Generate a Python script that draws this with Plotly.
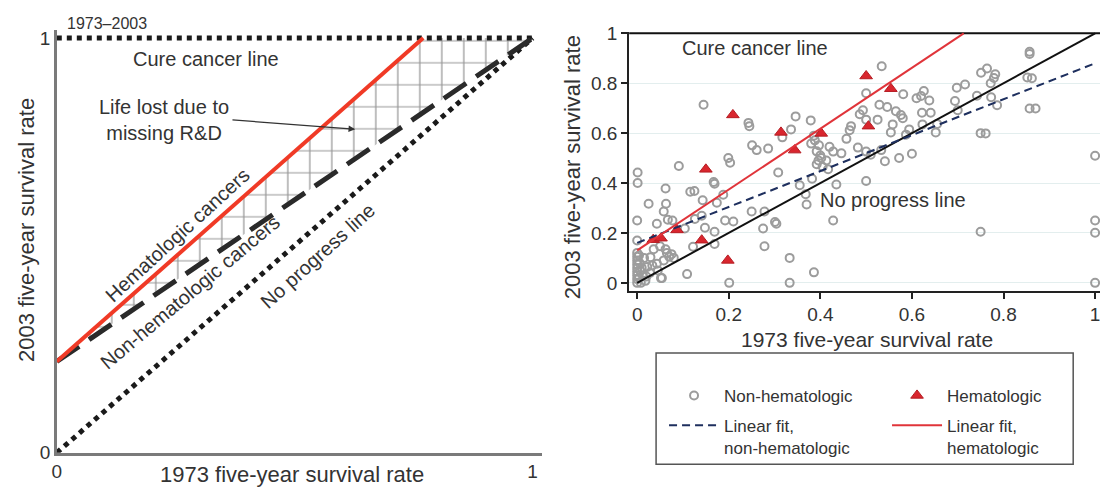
import plotly.graph_objects as go

# ---------------- data ----------------
# Left panel: schematic lines (x = 1973 rate, y = 2003 rate)
schem_intercept = 0.22
heme_end_x = 0.77
diag_x = [0.0, 1.0]
diag_y = [0.0, 1.0]
cure_x = [0.0, 1.0]
cure_y = [1.0, 1.0]
nonheme_line_x = [0.0, 1.0]
nonheme_line_y = [schem_intercept, 1.0]
heme_line_x = [0.0, heme_end_x]
heme_line_y = [schem_intercept, 1.0]
hatch_x = [0.0, heme_end_x, 1.0, 0.0]
hatch_y = [schem_intercept, 1.0, 1.0, schem_intercept]

# Right panel: observed survival rates
non_x = [0.145, 0.534, 0.50, 0.751, 0.764, 0.782, 0.779, 0.852, 0.857, 0.857, 0.698, 0.716, 0.742, 0.773,
         0.786, 0.857, 0.75, 0.772, 0.694, 0.70, 0.626, 0.61, 0.62, 0.638, 0.622, 0.641, 0.581, 0.529,
         0.546, 0.565, 0.576, 0.58, 0.558, 0.554, 0.594, 0.587, 0.525, 0.493, 0.486, 0.50, 0.467, 0.464,
         0.457, 0.482, 0.50, 0.51, 0.541, 0.572, 0.60, 0.50, 0.652, 0.655, 0.623, 0.533, 0.428, 0.446,
         0.42, 0.435, 0.428, 0.386, 0.380, 0.388, 0.379, 0.346, 0.336, 0.317, 0.286, 0.308, 0.261, 0.251,
         0.243, 0.245, 0.199, 0.203, 0.21, 0.192, 0.25, 0.278, 0.301, 0.304, 0.275, 0.278, 0.333, 0.333,
         0.386, 0.201, 0.109,
         0.397, 0.392, 0.400, 0.396, 0.392, 0.405, 0.413, 0.402,
         0.355, 0.368, 0.37, 0.382, 0.417,
         0.091, 0.167, 0.169, 0.116, 0.125, 0.062, 0.063, 0.058, 0.025, 0.001, 0.001, 0.0, 0.0, 0.043,
         0.067, 0.077, 0.143, 0.141, 0.148, 0.174, 0.188, 0.169, 0.169, 0.126, 0.104, 0.122, 0.052,
         1.0, 1.0, 1.0, 1.0, 0.75, 0.862, 0.87, 0.761,
         0.0, 0.0, 0.0, 0.0, 0.0, 0.0, 0.0, 0.0, 0.0, 0.004, 0.005, 0.006, 0.004, 0.008, 0.012, 0.02,
         0.018, 0.022, 0.029, 0.033, 0.036, 0.043, 0.05, 0.054, 0.062, 0.065, 0.07, 0.075, 0.08, 0.058,
         0.045, 0.028, 0.01, 0.015]
non_y = [0.714, 0.868, 0.76, 0.842, 0.859, 0.836, 0.821, 0.823, 0.917, 0.926, 0.782, 0.795, 0.75, 0.744,
         0.712, 0.699, 0.60, 0.80, 0.729, 0.692, 0.769, 0.74, 0.749, 0.731, 0.682, 0.682, 0.756, 0.714,
         0.705, 0.688, 0.673, 0.66, 0.635, 0.603, 0.615, 0.594, 0.654, 0.692, 0.676, 0.654, 0.628, 0.612,
         0.577, 0.542, 0.526, 0.513, 0.487, 0.50, 0.517, 0.408, 0.603, 0.637, 0.635, 0.532, 0.526, 0.519,
         0.545, 0.394, 0.25, 0.59, 0.558, 0.571, 0.651, 0.667, 0.615, 0.583, 0.538, 0.442, 0.532, 0.551,
         0.641, 0.628, 0.50, 0.481, 0.246, 0.25, 0.286, 0.286, 0.244, 0.237, 0.218, 0.147, 0.10, 0.0,
         0.042, 0.0, 0.035,
         0.551, 0.527, 0.51, 0.49, 0.475, 0.465, 0.49, 0.50,
         0.391, 0.355, 0.314, 0.417, 0.455,
         0.468, 0.404, 0.397, 0.365, 0.368, 0.378, 0.317, 0.286, 0.317, 0.442, 0.40, 0.25, 0.17, 0.237,
         0.253, 0.25, 0.331, 0.269, 0.221, 0.321, 0.353, 0.205, 0.156, 0.256, 0.218, 0.145, 0.019,
         0.509, 0.25, 0.201, 0.0, 0.205, 0.82, 0.699, 0.599,
         0.12, 0.105, 0.09, 0.075, 0.06, 0.045, 0.03, 0.015, 0.0, 0.11, 0.08, 0.05, 0.02, 0.0, 0.03, 0.025,
         0.008, 0.064, 0.103, 0.07, 0.135, 0.077, 0.147, 0.019, 0.135, 0.12, 0.105, 0.115, 0.10, 0.09,
         0.05, 0.04, 0.06, 0.10]

heme_x = [0.50, 0.554, 0.209, 0.314, 0.402, 0.344, 0.505, 0.15, 0.035, 0.052, 0.087, 0.141, 0.198]
heme_y = [0.829, 0.778, 0.673, 0.603, 0.599, 0.532, 0.628, 0.455, 0.173, 0.179, 0.212, 0.171, 0.09]

# linear fits
fit_non_intercept, fit_non_slope = 0.16, 0.72
fit_heme_intercept, fit_heme_slope = 0.13, 1.22
fit_non_x = [0.0, 1.0]
fit_heme_x = [0.0, (1.0 - fit_heme_intercept) / fit_heme_slope]
fit_non_y = [fit_non_intercept + fit_non_slope * v for v in fit_non_x]
fit_heme_y = [fit_heme_intercept + fit_heme_slope * v for v in fit_heme_x]
noprog_x = [0.0, 1.0]
noprog_y = [0.0, 1.0]
cure2_x = [-0.03, 1.05]
cure2_y = [1.0, 1.0]

tick_vals = [0, 0.2, 0.4, 0.6, 0.8, 1]
tick_text = ["0", "0.2", "0.4", "0.6", "0.8", "1"]

# ---------------- figure ----------------
W, H = 1108, 497
OFF = 8  # the page body margin shifts the figure by 8 px right and down
FONT = "Liberation Sans, Arial, Helvetica, sans-serif"
TXT = "#333333"


def px(x):
    return (x - OFF) / W


def py(y):
    return (H - (y - OFF)) / H


fig = go.Figure()

# left panel
fig.add_trace(go.Scatter(x=hatch_x, y=hatch_y, mode="lines", fill="toself",
                         fillcolor="rgba(0,0,0,0)", line=dict(width=0),
                         fillpattern=dict(shape="+", size=22, solidity=0.11, fgcolor="#2e2e2e",
                                          bgcolor="rgba(255,255,255,0)"),
                         showlegend=False, hoverinfo="skip", xaxis="x", yaxis="y"))
fig.add_trace(go.Scatter(x=diag_x, y=diag_y, mode="lines",
                         line=dict(color="#1a1a1a", width=5, dash="dot"),
                         showlegend=False, xaxis="x", yaxis="y"))
fig.add_trace(go.Scatter(x=cure_x, y=cure_y, mode="lines",
                         line=dict(color="#1a1a1a", width=5, dash="dot"),
                         showlegend=False, xaxis="x", yaxis="y"))
fig.add_trace(go.Scatter(x=nonheme_line_x, y=nonheme_line_y, mode="lines",
                         line=dict(color="#2a2a2a", width=5, dash="27px,12px"),
                         showlegend=False, xaxis="x", yaxis="y"))
fig.add_trace(go.Scatter(x=heme_line_x, y=heme_line_y, mode="lines",
                         line=dict(color="#f03a26", width=4),
                         showlegend=False, xaxis="x", yaxis="y"))

# right panel
fig.add_trace(go.Scatter(x=non_x, y=non_y, mode="markers", name="Non-hematologic",
                         marker=dict(symbol="circle-open", size=8, color="#9c9c9c",
                                     line=dict(width=2, color="#9c9c9c")),
                         legend="legend", xaxis="x2", yaxis="y2"))
fig.add_trace(go.Scatter(x=heme_x, y=heme_y, mode="markers", name="Hematologic",
                         marker=dict(symbol="triangle-up", size=11, color="#d9262e",
                                     line=dict(width=1, color="#b51c22")),
                         legend="legend3", xaxis="x2", yaxis="y2"))
fig.add_trace(go.Scatter(x=cure2_x, y=cure2_y, mode="lines",
                         line=dict(color="#111111", width=2),
                         showlegend=False, xaxis="x2", yaxis="y2"))
fig.add_trace(go.Scatter(x=noprog_x, y=noprog_y, mode="lines",
                         line=dict(color="#111111", width=2),
                         showlegend=False, xaxis="x2", yaxis="y2"))
fig.add_trace(go.Scatter(x=fit_non_x, y=fit_non_y, mode="lines",
                         name="Linear fit,<br>non-hematologic",
                         line=dict(color="#1e2f5e", width=2, dash="8px,5px"),
                         legend="legend2", xaxis="x2", yaxis="y2"))
fig.add_trace(go.Scatter(x=fit_heme_x, y=fit_heme_y, mode="lines",
                         name="Linear fit,<br>hematologic",
                         line=dict(color="#e0343a", width=2),
                         legend="legend4", xaxis="x2", yaxis="y2"))

# axes geometry (reference pixel positions)
lx0, lx1 = 52, 530            # pixel of data 0 and 1 (left panel, x)
ly0, ly1 = 462, 30            # pixel of data 0 and 1 (left panel, y)
lxr = [0, 1.02]
lyr = [0, 1.02]
lxs = (lx1 - lx0)
lys = (ly0 - ly1)

rx0, rx1 = 635, 1095
ry0, ry1 = 285, 25
rxs = rx1 - rx0
rys = ry0 - ry1
rx_right = 1100 + OFF
rxr = [-(rx0 - 627) / rxs, (rx_right - rx0) / rxs]
ryr = [-(293 - ry0) / rys, 1.005]

axis_common = dict(zeroline=False, showgrid=False, fixedrange=True,
                   tickfont=dict(family=FONT, size=19, color=TXT))

fig.update_layout(
    width=W, height=H, autosize=False,
    margin=dict(l=0, r=0, t=0, b=0),
    paper_bgcolor="white", plot_bgcolor="white",
    font=dict(family=FONT, color=TXT),
    xaxis=dict(domain=[px(lx0), px(lx0 + lxr[1] * lxs)], range=lxr,
               showline=True, linecolor="#7a7a7a", linewidth=2.5,
               tickvals=[0, 1], ticktext=["0", "1"], ticks="", **axis_common),
    yaxis=dict(domain=[py(ly0), py(ly0 - lyr[1] * lys)], range=lyr,
               showline=True, linecolor="#7a7a7a", linewidth=2.5,
               tickvals=[0, 1], ticktext=["0", "1"], ticks="", **axis_common),
    xaxis2=dict(domain=[px(627), px(rx_right)], range=rxr, anchor="y2",
                showline=True, linecolor="#222222", linewidth=2,
                tickvals=tick_vals, ticktext=tick_text, ticks="outside", ticklen=6,
                tickwidth=1.5, tickcolor="#222222", **axis_common),
    yaxis2=dict(domain=[py(293), py(ry0 - ryr[1] * rys)], range=ryr, anchor="x2",
                showline=True, linecolor="#222222", linewidth=2,
                tickvals=tick_vals, ticktext=tick_text, ticks="outside", ticklen=6,
                tickwidth=1.5, tickcolor="#222222",
                zeroline=False, fixedrange=True,
                showgrid=True, gridcolor="#e3eeee", gridwidth=1,
                tickfont=dict(family=FONT, size=19, color=TXT)),
)

leg_common = dict(bgcolor="rgba(0,0,0,0)", borderwidth=0, itemwidth=50,
                  font=dict(family=FONT, size=17, color=TXT),
                  xanchor="left", yanchor="top", valign="top", orientation="v")
fig.update_layout(
    legend=dict(x=px(662), y=py(384), **leg_common),
    legend2=dict(x=px(662), y=py(415), **leg_common),
    legend3=dict(x=px(886), y=py(384), **leg_common),
    legend4=dict(x=px(886), y=py(415), **leg_common),
)

# legend frame
fig.add_shape(type="rect", xref="paper", yref="paper",
              x0=px(654), x1=px(1073), y0=py(474), y1=py(358),
              line=dict(color="#555555", width=1.5), fillcolor="rgba(0,0,0,0)", layer="below")

ann = []


def text(x, y, s, size=20, angle=0, xanchor="center", align="center"):
    ann.append(dict(x=px(x), y=py(y), xref="paper", yref="paper", text=s, showarrow=False,
                    font=dict(family=FONT, size=size, color=TXT), textangle=angle,
                    xanchor=xanchor, yanchor="middle", align=align))


text(60, 15, "1973–2003", size=16, xanchor="left")
text(202, 52, "Cure cancer line")
text(160, 115, "Life lost due to<br>missing R&D")
text(173, 235, "Hematologic cancers", angle=-42.5)
text(186, 295, "Non-hematologic cancers", angle=-40)
text(314, 257, "No progress line", angle=-42)
text(21, 230, "2003 five-year survival rate", size=22, angle=-90)
text(288, 485, "1973 five-year survival rate", size=22)

text(753, 40, "Cure cancer line")
text(892, 199, "No progress line")
text(570, 164, "2003 five-year survival rate", size=22, angle=-90)
text(866, 344, "1973 five-year survival rate", size=21)

# arrow for "Life lost due to missing R&D"
ann.append(dict(x=0.627, y=0.78, xref="x", yref="y", ax=0.366, ay=0.803, axref="x", ayref="y",
                text="", showarrow=True, arrowhead=2, arrowsize=1.1, arrowwidth=1.2,
                arrowcolor="#333333"))

fig.update_layout(annotations=ann)

fig.write_html("out.html")
